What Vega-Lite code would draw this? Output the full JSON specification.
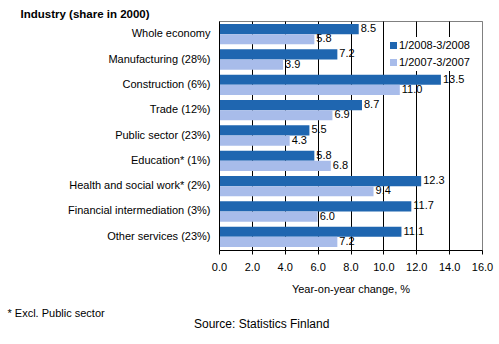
{
  "$schema": "https://vega.github.io/schema/vega-lite/v6.json",
  "width": 263,
  "height": 229,
  "autosize": "none",
  "padding": {"left": 219, "top": 21, "right": 17, "bottom": 94},
  "background": "white",
  "config": {
    "font": "Liberation Sans",
    "view": {"stroke": "#808080", "strokeWidth": 1},
    "axis": {
      "labelColor": "black",
      "titleColor": "black",
      "domainColor": "black",
      "tickColor": "black",
      "labelFontSize": 11,
      "titleFontSize": 11,
      "titleFontWeight": "normal"
    }
  },
  "title": {
    "text": "Source: Statistics Finland",
    "orient": "bottom",
    "anchor": "start",
    "frame": "group",
    "fontSize": 12,
    "fontWeight": "normal",
    "color": "black",
    "dx": -25,
    "offset": 1
  },
  "data": {
    "values": [
      {"industry": "Whole economy", "period": "1/2008-3/2008", "value": 8.5},
      {"industry": "Whole economy", "period": "1/2007-3/2007", "value": 5.8},
      {"industry": "Manufacturing (28%)", "period": "1/2008-3/2008", "value": 7.2},
      {"industry": "Manufacturing (28%)", "period": "1/2007-3/2007", "value": 3.9},
      {"industry": "Construction (6%)", "period": "1/2008-3/2008", "value": 13.5},
      {"industry": "Construction (6%)", "period": "1/2007-3/2007", "value": 11.0},
      {"industry": "Trade (12%)", "period": "1/2008-3/2008", "value": 8.7},
      {"industry": "Trade (12%)", "period": "1/2007-3/2007", "value": 6.9},
      {"industry": "Public sector (23%)", "period": "1/2008-3/2008", "value": 5.5},
      {"industry": "Public sector (23%)", "period": "1/2007-3/2007", "value": 4.3},
      {"industry": "Education* (1%)", "period": "1/2008-3/2008", "value": 5.8},
      {"industry": "Education* (1%)", "period": "1/2007-3/2007", "value": 6.8},
      {"industry": "Health and social work* (2%)", "period": "1/2008-3/2008", "value": 12.3},
      {"industry": "Health and social work* (2%)", "period": "1/2007-3/2007", "value": 9.4},
      {"industry": "Financial intermediation (3%)", "period": "1/2008-3/2008", "value": 11.7},
      {"industry": "Financial intermediation (3%)", "period": "1/2007-3/2007", "value": 6.0},
      {"industry": "Other services (23%)", "period": "1/2008-3/2008", "value": 11.1},
      {"industry": "Other services (23%)", "period": "1/2007-3/2007", "value": 7.2}
    ]
  },
  "encoding": {
    "y": {
      "field": "industry",
      "type": "nominal",
      "sort": ["Whole economy", "Manufacturing (28%)", "Construction (6%)", "Trade (12%)", "Public sector (23%)", "Education* (1%)", "Health and social work* (2%)", "Financial intermediation (3%)", "Other services (23%)"],
      "scale": {"paddingInner": 0.2, "paddingOuter": 0.12},
      "axis": {
        "zindex": 1,
        "ticks": false,
        "labelPadding": 9,
        "title": "Industry (share in 2000)",
        "titleFontWeight": "bold",
        "titleFontSize": 11.5,
        "titleAngle": 0,
        "titleAlign": "left",
        "titleBaseline": "alphabetic",
        "titleX": -199,
        "titleY": -4
      }
    },
    "yOffset": {"field": "period", "type": "nominal", "sort": ["1/2008-3/2008", "1/2007-3/2007"]},
    "x": {
      "field": "value",
      "type": "quantitative",
      "scale": {"domain": [0, 16], "nice": false},
      "axis": {
        "values": [0, 2, 4, 6, 8, 10, 12, 14, 16],
        "format": ".1f",
        "labelFlush": false,
        "labelOverlap": false,
        "tickSize": 4,
        "labelPadding": 7,
        "title": "Year-on-year change, %",
        "titlePadding": 11,
        "grid": true,
        "gridColor": {"condition": {"test": "datum.value === 16 || datum.value === 0", "value": "#808080"}, "value": "black"}
      }
    }
  },
  "layer": [
    {
      "mark": {"type": "bar"},
      "encoding": {
        "color": {
          "field": "period",
          "type": "nominal",
          "sort": ["1/2008-3/2008", "1/2007-3/2007"],
          "scale": {"domain": ["1/2008-3/2008", "1/2007-3/2007"], "range": ["#1F66B0", "#A8BCEA"]},
          "legend": {
            "orient": "none",
            "legendX": 166,
            "legendY": 16,
            "title": null,
            "symbolType": "square",
            "symbolSize": 49,
            "symbolStrokeWidth": 0,
            "labelFontSize": 11,
            "labelColor": "black",
            "labelOffset": 0,
            "rowPadding": 5,
            "fillColor": "white",
            "padding": 3
          }
        }
      }
    },
    {
      "mark": {"type": "text", "align": "left", "dx": 2, "fontSize": 11, "color": "black"},
      "encoding": {
        "text": {"field": "value", "type": "quantitative", "format": ".1f"},
        "x": {
          "field": "value",
          "type": "quantitative",
          "axis": {
            "orient": "top",
            "labels": false,
            "ticks": false,
            "domain": false,
            "grid": false,
            "title": "* Excl. Public sector",
            "titleFontSize": 11,
            "titleAlign": "left",
            "titleAnchor": "start",
            "titleBaseline": "alphabetic",
            "titleAngle": 0,
            "titleX": -212,
            "titleY": 295
          }
        }
      }
    }
  ],
  "resolve": {"axis": {"x": "independent"}}
}
